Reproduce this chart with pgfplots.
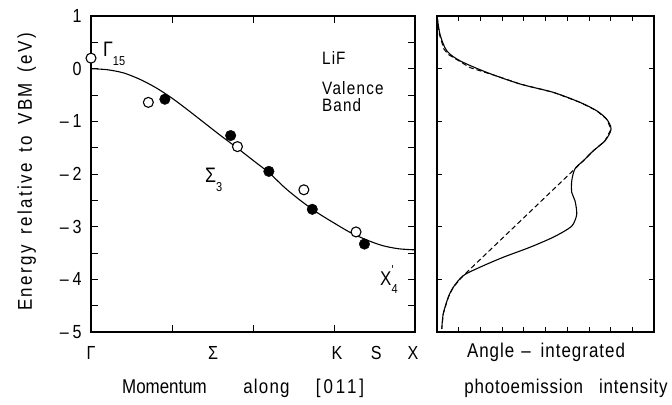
\documentclass[border=0pt]{standalone}
\usepackage{fontspec}
\setmainfont{Liberation Sans}[FakeStretch=0.85]
\usepackage{pgfplots}
\pgfplotsset{compat=1.18}

\newcommand{\sub}[1]{\raisebox{-0.42em}{\fontsize{13}{13}\selectfont #1}}
\newcommand{\mn}[1]{\textendash\hspace{0.2em}#1}

\begin{document}
\begin{tikzpicture}[font=\fontsize{20}{22}\selectfont]
\path[use as bounding box] (-91bp,-73bp) rectangle (581bp,332bp);

% band dispersion
\begin{axis}[
  name=L, at={(0,0)}, anchor=south west,
  scale only axis, width=324bp, height=316bp,
  xmin=0, xmax=1, ymin=-5, ymax=1,
  clip=false,
  axis line style={line width=1.2bp},
  every tick/.style={black, line width=0.9bp},
  tick align=inside, tick pos=both,
  major tick length=7bp, minor tick length=7bp,
  tick label style={font=\fontsize{19}{20}\selectfont},
  xtick={0.25,0.5,0.75}, xticklabels={},
  extra x ticks={0,0.377,0.759,0.88,0.994},
  extra x tick labels={Γ,Σ,K,S,X},
  extra x tick style={tick style={draw=none}},
  xticklabel style={yshift=-11bp},
  ytick={-5,-4,...,1},
  minor ytick={-4.5,-3.5,...,0.5},
  yticklabels={\mn5,\mn4,\mn3,\mn2,\mn1,0,1},
  yticklabel style={xshift=-6bp},
]
\addplot[smooth, line width=1.1bp] coordinates {
  (0,0) (0.05,-0.02) (0.1,-0.08) (0.15,-0.20) (0.2,-0.36) (0.25,-0.56)
  (0.3,-0.79) (0.35,-1.03) (0.4,-1.27) (0.45,-1.50) (0.5,-1.74)
  (0.55,-1.98) (0.6,-2.27) (0.65,-2.52) (0.7,-2.74) (0.75,-2.93)
  (0.8,-3.11) (0.85,-3.25) (0.9,-3.36) (0.95,-3.42) (1,-3.44)};
\addplot[only marks, mark=*, mark size=5bp,
  mark options={fill=white, draw=black, line width=1.1bp}] coordinates {
  (0,0.20) (0.177,-0.64) (0.452,-1.48) (0.657,-2.30) (0.818,-3.10)};
\addplot[only marks, mark=*, mark size=5.3bp,
  mark options={fill=black, draw=black}] coordinates {
  (0.228,-0.58) (0.431,-1.27) (0.549,-1.95) (0.683,-2.67) (0.844,-3.33)};

\begin{scope}[every node/.style={inner sep=0pt, anchor=base west}]
\node[font=\fontsize{21}{22}\selectfont] at (axis cs:0.037,0.23) {Γ\sub{15}};
\node[font=\fontsize{18}{18}\selectfont] at (axis cs:0.713,0.076)
  {\addfontfeature{LetterSpace=6}LiF};
\node[font=\fontsize{18}{18}\selectfont] at (axis cs:0.713,-0.49)
  {\addfontfeature{LetterSpace=7}Valence};
\node[font=\fontsize{18}{18}\selectfont] at (axis cs:0.713,-0.82)
  {\addfontfeature{LetterSpace=6}Band};
\node[font=\fontsize{21}{22}\selectfont] at (axis cs:0.352,-2.17) {Σ\sub{3}};
\node at (axis cs:0.892,-4.11)
  {X\rlap{\raisebox{0.55em}{\fontsize{13}{13}\selectfont\textquotesingle}}\sub{4}};
\end{scope}
\end{axis}

% photoemission spectrum
\begin{axis}[
  name=R, at={(346bp,0)}, anchor=south west,
  scale only axis, width=217bp, height=316bp,
  xmin=0, xmax=10, ymin=-5, ymax=1,
  axis line style={line width=1.2bp},
  every tick/.style={black, line width=0.8bp},
  tick align=inside, tick pos=both,
  major tick length=5bp,
  xtick={1,2,...,9}, xticklabels={},
  ytick={-4,-3,...,0}, yticklabels={},
]
\addplot[smooth, tension=0.5, line width=1.1bp] coordinates {
  (0.01,0.98) (0.14,0.65) (0.45,0.34) (1.06,0.15) (2.29,-0.07)
  (3.82,-0.29) (5.36,-0.45) (6.59,-0.64) (7.36,-0.80) (7.82,-0.96)
  (8.02,-1.15) (7.74,-1.37) (7.20,-1.56) (6.74,-1.75) (6.36,-1.90)
  (6.21,-2.13) (6.21,-2.35) (6.36,-2.51) (6.44,-2.76) (6.28,-2.95)
  (6.05,-3.04) (5.36,-3.20) (4.29,-3.39) (3.06,-3.58) (1.98,-3.77)
  (1.21,-3.93) (0.75,-4.15) (0.52,-4.34) (0.29,-4.65) (0.22,-4.94)};
\addplot[line width=1.0bp, dash pattern=on 5bp off 3bp] coordinates {
  (0.01,0.98) (0.11,0.65) (0.32,0.37) (0.52,0.27) (1.52,0.02)
  (2.75,-0.14) (3.82,-0.29) (5.36,-0.45) (6.59,-0.64) (7.36,-0.80)
  (7.82,-0.96) (8.02,-1.15) (7.74,-1.37) (7.20,-1.56) (6.74,-1.75)
  (6.36,-1.90) (1.21,-3.93) (0.75,-4.15) (0.52,-4.34) (0.29,-4.65)
  (0.22,-4.94)};
\end{axis}

\node[anchor=base, rotate=90] at (-59bp,160bp)
  {\addfontfeature{LetterSpace=12}Energy\hspace{0.55em}relative\hspace{0.55em}to\hspace{0.55em}VBM\hspace{0.55em}(eV)};
\node[anchor=base] at (73.5bp,-61bp) {Momentum};
\node[anchor=base] at (175.5bp,-61bp) {\addfontfeature{LetterSpace=6}along};
\node[anchor=base] at (249bp,-61bp) {\addfontfeature{LetterSpace=15}[011]};
\node[anchor=base] at (455bp,-25bp)
  {\addfontfeature{LetterSpace=5}Angle\hspace{0.35em}\textendash\hspace{0.5em}integrated};
\node[anchor=base] at (475bp,-61bp)
  {\addfontfeature{LetterSpace=4}photoemission\hspace{0.8em}intensity};
\end{tikzpicture}
\end{document}
